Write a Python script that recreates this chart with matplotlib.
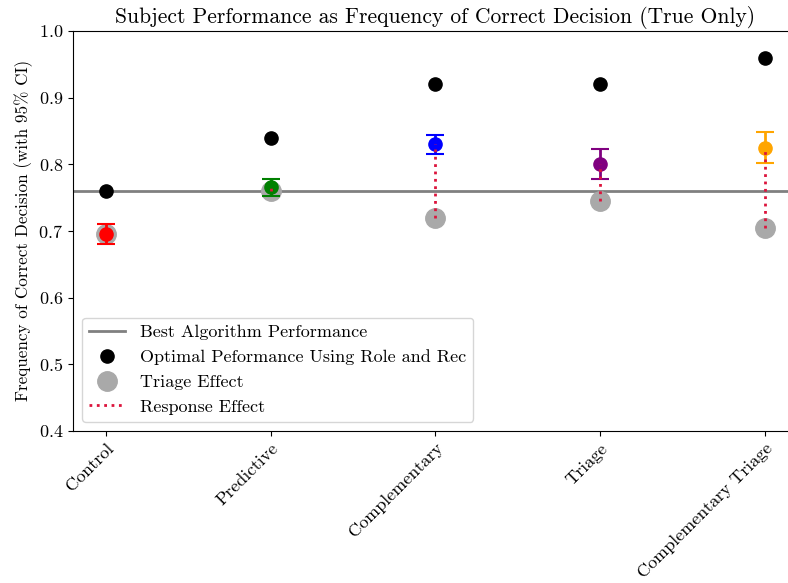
import numpy as np
import matplotlib
matplotlib.use("Agg")
import matplotlib.pyplot as plt

plt.rcParams['font.family'] = ['cmr10', 'DejaVu Serif']
plt.rcParams['mathtext.fontset'] = 'cm'
plt.rcParams['axes.formatter.use_mathtext'] = True

conditions = ["Control", "Predictive", "Complementary", "Triage", "Complementary Triage"]
colors = ["red", "green", "blue", "purple", "orange"]
best_algorithm = 0.76
optimal = [0.76, 0.84, 0.92, 0.92, 0.96]
triage_effect = [0.695, 0.76, 0.72, 0.745, 0.705]
mean_perf = [0.695, 0.766, 0.83, 0.80, 0.825]
ci_low = [0.68, 0.7525, 0.816, 0.778, 0.8015]
ci_high = [0.71, 0.778, 0.8435, 0.8235, 0.849]

fig, ax = plt.subplots(figsize=(7.88, 5.83), dpi=100)
# right edge of the axes sits just past the figure, as in the original crop
fig.subplots_adjust(left=0.0926, right=1.0123, bottom=0.261, top=0.947)

x = np.arange(len(conditions))

ax.axhline(best_algorithm, color="gray", lw=2, zorder=1, label="Best Algorithm Performance")
ax.plot(x, optimal, "o", color="black", ms=9.5, ls="none", zorder=3,
        label="Optimal Peformance Using Role and Rec")
ax.plot(x, triage_effect, "o", color="darkgray", ms=14, ls="none", zorder=2,
        label="Triage Effect")

for i in range(len(conditions)):
    lo = mean_perf[i] - ci_low[i]
    hi = ci_high[i] - mean_perf[i]
    ax.errorbar(x[i], mean_perf[i], yerr=[[lo], [hi]], fmt="o", color=colors[i],
                ms=9.5, capsize=6.5, elinewidth=2, capthick=1.5, zorder=4)

ax.vlines(x, triage_effect, mean_perf, colors="crimson", linestyles=":", lw=2,
          zorder=5, label="Response Effect")

ax.set_xlim(-0.2, 4.2)
ax.set_ylim(0.4, 1.0)
ax.set_xticks(x)
ax.set_xticklabels(conditions, rotation=45, ha="right", rotation_mode="anchor", fontsize=13)
ax.tick_params(axis="y", labelsize=13)
ax.set_ylabel("Frequency of Correct Decision (with 95% CI)", fontsize=12.3)
ax.set_title("Subject Performance as Frequency of Correct Decision (True Only)", fontsize=15.5)

handles, labels = ax.get_legend_handles_labels()
ax.legend(handles, labels, loc="lower left", fontsize=13)

fig.savefig("out.png", dpi=100)
